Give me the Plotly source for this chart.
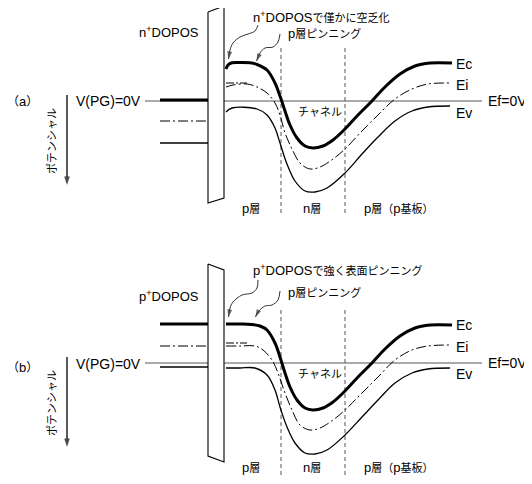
import re
import plotly.graph_objects as go

# ---------------- data (potential relative to Ef = 0 V, positive = downward) ----------------
depth_range = [8, 532]                    # page body has an 8px margin
layer_bounds = [281, 345]                 # p / n / p(substrate) boundaries
gate_x = [160, 208]
ef_x = [145, 482]

# (a) n+ DOPOS gate: gate Ec, Ei, Ev
a_gate_levels = [-1, 20, 42]
a_ei_ref = -18
a_ec_x = [226, 228, 232, 240, 250, 257, 267, 275, 280, 285, 290, 297, 305, 313, 323, 333, 345, 358, 372, 385, 400, 415, 430, 452]
a_ec_y = [-32, -36, -38.2, -38.5, -38.2, -36.5, -31, -18, -5, 10, 24, 37, 45, 47, 45, 39, 28, 14, 0, -14, -27, -35, -38, -38]
a_ei_x = [226, 233, 247, 257, 267, 275, 280, 285, 292, 300, 310, 320, 333, 345, 362, 378, 395, 412, 428, 450]
a_ei_y = [-14, -16, -17, -14, -8, 2, 14, 32, 48, 62, 68, 66, 58, 48, 30, 14, -2, -12, -17, -18]
a_ev_x = [226, 232, 257, 267, 275, 280, 287, 295, 305, 315, 327, 345, 362, 378, 395, 412, 428, 450]
a_ev_y = [11, 7, 8, 14, 27, 42, 63, 80, 90, 91, 87, 72, 53, 36, 20, 10, 6, 5]

# (b) p+ DOPOS gate
b_gate_levels = [-39, -17, 4]
b_ei_ref = -20
b_ec_x = [226, 240, 252, 260, 267, 275, 280, 285, 290, 297, 305, 313, 323, 333, 345, 358, 372, 385, 400, 415, 430, 452]
b_ec_y = [-39, -39, -38.6, -37, -33, -20, -6, 10, 24, 37, 45, 47, 45, 39, 28, 14, 0, -14, -27, -35, -38, -38]
b_ei_x = [226, 240, 255, 263, 272, 278, 285, 292, 300, 310, 320, 333, 345, 362, 378, 395, 412, 428, 450]
b_ei_y = [-17, -17, -17, -13, -3, 10, 30, 47, 62, 67, 65, 57, 47, 30, 14, -3, -13, -17, -18]
b_ev_x = [226, 240, 255, 267, 275, 280, 287, 295, 305, 315, 327, 345, 362, 378, 395, 412, 428, 450]
b_ev_y = [5, 5, 5, 12, 27, 44, 64, 80, 90, 91, 87, 72, 54, 37, 20, 10, 6, 5]

band_labels = ["Ec", "Ei", "Ev"]
layer_labels = ["p層", "n層", "p層（p基板）"]

# ---------------- helpers ----------------
LATIN = "Liberation Sans, Noto Sans CJK JP"
DASHDOT = "10px,3px,2px,3px"


def jp(s, size=11):
    return re.sub(r'([\u3000-\u30ff\u4e00-\u9fff\uff00-\uffef]+)',
                  lambda m: f'<span style="font-size:{size}px">{m.group(1)}</span>', s)


fig = go.Figure()
annotations = []


def arrow_trace(px, py, xr, yr, color, width, size, shape="spline"):
    sizes = [0] * (len(px) - 1) + [size]
    fig.add_trace(go.Scatter(
        x=px, y=py, mode="lines+markers", xaxis=xr, yaxis=yr,
        line=dict(color=color, width=width, shape=shape),
        marker=dict(symbol="arrow", size=sizes, color=color, angleref="previous",
                    line=dict(width=0)),
        hoverinfo="skip"))


def add_panel(xr, yr, tag, gate_name, top_text, gate_levels, ei_ref,
              ec, ei, ev, ylabels, oxide, arrows):
    # Fermi level line
    fig.add_trace(go.Scatter(x=ef_x, y=[0, 0], mode="lines", xaxis=xr, yaxis=yr,
                             line=dict(color="#555", width=1), hoverinfo="skip"))
    # gate band levels
    widths = [3, 1.2, 1.3]
    dashes = ["solid", DASHDOT, "solid"]
    for lv, w, d in zip(gate_levels, widths, dashes):
        fig.add_trace(go.Scatter(x=gate_x, y=[lv, lv], mode="lines", xaxis=xr, yaxis=yr,
                                 line=dict(color="black", width=w, dash=d), hoverinfo="skip"))
    # oxide
    ox, oy = oxide
    fig.add_trace(go.Scatter(x=ox, y=oy, mode="lines", fill="toself", fillcolor="white",
                             xaxis=xr, yaxis=yr, line=dict(color="black", width=1.1),
                             hoverinfo="skip"))
    # layer boundaries
    for bx in layer_bounds:
        fig.add_trace(go.Scatter(x=[bx, bx], y=[-53, 112], mode="lines", xaxis=xr, yaxis=yr,
                                 line=dict(color="#555", width=1, dash="4px,3px"), hoverinfo="skip"))
    # band curves
    styles = [dict(width=3), dict(width=1, dash=DASHDOT), dict(width=1.3)]
    for (cx, cy), st in zip([ec, ei, ev], styles):
        fig.add_trace(go.Scatter(x=cx, y=cy, mode="lines", xaxis=xr, yaxis=yr,
                                 line=dict(color="black", shape="spline", smoothing=1.0, **st),
                                 hoverinfo="skip"))
    # flat-band Ei reference near surface
    fig.add_trace(go.Scatter(x=[226, 247], y=[ei_ref, ei_ref], mode="lines", xaxis=xr, yaxis=yr,
                             line=dict(color="black", width=1, dash="8px,2px,2px,2px"), hoverinfo="skip"))
    # squiggle pointer arrows
    for px, py in arrows:
        arrow_trace(px, py, xr, yr, "#333", 1, 8)
    # potential arrow
    arrow_trace([67, 67], [-6, 84], xr, yr, "black", 1.3, 9, shape="linear")

    def txt(x, y, s, xanchor="center", angle=0, size=13):
        annotations.append(dict(x=x, y=y, xref=xr, yref=yr, text=s, showarrow=False,
                                xanchor=xanchor, yanchor="middle", textangle=angle,
                                font=dict(family=LATIN, size=size, color="black")))

    txt(22, ylabels["tag"], jp(f"（{tag}）", 12))
    txt(143, ylabels["vpg"], "V(PG)=0V", "right", size=14)
    txt(52, 40, jp("ポテンシャル"), angle=-90)
    txt(169, ylabels["gate"], gate_name)
    txt(251, ylabels["top"], jp(top_text), "left")
    txt(286, ylabels["pin"], jp("p層ピンニング"), "left")
    txt(320, 11, jp("チャネル"))
    for lab, yy in zip(band_labels, ylabels["bands"]):
        txt(454, yy, lab, "left", size=14)
    txt(486, 0, "Ef=0V", "left", size=14)
    for lab, xx in zip(layer_labels, [251, 312, 398]):
        txt(xx, ylabels["bottom"], jp(lab))


add_panel("x", "y", "a", "n<sup>+</sup>DOPOS", "n<sup>+</sup>DOPOSで僅かに空乏化",
          a_gate_levels, a_ei_ref,
          (a_ec_x, a_ec_y), (a_ei_x, a_ei_y), (a_ev_x, a_ev_y),
          dict(tag=0, vpg=0, gate=-69, top=-84, pin=-68, bands=[-37, -16, 12], bottom=107),
          ([208, 224, 224, 208, 208], [-89, -95, 97, 102, -89]),
          [([258, 255, 248, 240, 233, 230, 228.5], [-76, -70, -67, -64, -58, -51, -42]),
           ([280, 278, 273, 265, 260, 256.5], [-67, -59, -54, -53, -48, -40])])

add_panel("x2", "y2", "b", "p<sup>+</sup>DOPOS", "p<sup>+</sup>DOPOSで強く表面ピンニング",
          b_gate_levels, b_ei_ref,
          (b_ec_x, b_ec_y), (b_ei_x, b_ei_y), (b_ev_x, b_ev_y),
          dict(tag=4, vpg=1, gate=-67, top=-93, pin=-71, bands=[-38, -16, 11], bottom=104),
          ([208, 224, 224, 208, 208], [-99, -93, 99, 93, -99]),
          [([258, 257, 252, 242, 233, 230, 228.5], [-83, -75, -70, -68, -61, -55, -46]),
           ([280, 278, 272, 265, 258, 255.5], [-72, -63, -58, -57, -51, -46])])

split = 1 - 234 / 476
axis_common = dict(visible=False, showgrid=False, zeroline=False, fixedrange=True)
fig.update_layout(
    width=524, height=476,
    margin=dict(l=0, r=0, t=0, b=0),
    paper_bgcolor="white", plot_bgcolor="white",
    showlegend=False,
    xaxis=dict(range=depth_range, anchor="y", domain=[0, 1], **axis_common),
    yaxis=dict(range=[141, -93], anchor="x", domain=[split, 1], **axis_common),
    xaxis2=dict(range=depth_range, anchor="y2", domain=[0, 1], **axis_common),
    yaxis2=dict(range=[121, -121], anchor="x2", domain=[0, split], **axis_common),
    annotations=annotations,
)
fig.write_html("out.html")
